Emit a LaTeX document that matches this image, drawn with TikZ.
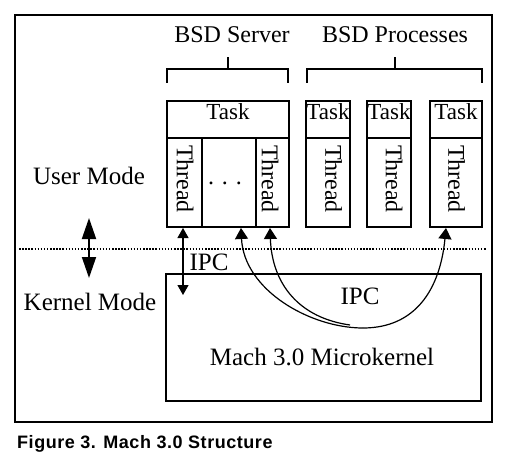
\documentclass[tikz,border=0pt]{standalone}
\usepackage{fontspec}
\setmainfont{Liberation Serif}
\newfontfamily\capfont[LetterSpace=3]{Liberation Sans}
\usetikzlibrary{arrows.meta}
\begin{document}
\begin{tikzpicture}[x=1pt,y=-1pt,
  lbl/.style={font=\fontsize{24}{28}\selectfont, inner sep=0pt, anchor=base},
  lblb/.style={font=\fontsize{25}{29}\selectfont, inner sep=0pt, anchor=base},
  tasktxt/.style={font=\fontsize{23}{27}\selectfont, inner sep=0pt, anchor=base},
  thr/.style={font=\fontsize{24}{28}\selectfont, inner sep=0pt, rotate=-90},
  tbox/.style={line width=1.8pt},
  brk/.style={line width=1.8pt},
  curvetip/.style={line width=1.2pt, -{Triangle[width=13pt,length=11pt]}},
  ipctip/.style={line width=1.2pt, {Triangle[width=11pt,length=10pt]}-{Triangle[width=11pt,length=10pt]}},
  modetip/.style={line width=1.8pt, {Triangle[width=14pt,length=21pt]}-{Triangle[width=14pt,length=21pt]}}
]
\useasboundingbox (0,0) rectangle (509,468);
% outer frame
\draw[line width=1.7pt] (15,15) rectangle (492,422);
% brackets
\draw[brk] (167,83) -- (167,69) -- (288,69) -- (288,83);
\draw[brk] (228,69) -- (228,57);
\draw[brk] (307,83) -- (307,69) -- (482,69) -- (482,83);
\draw[brk] (395,69) -- (395,57);
\node[lbl] (bsds) at (232,43) {BSD Server};
\node[lbl] (bsdp) at (395,43) {BSD Processes};
% server task box
\draw[tbox] (167,101) rectangle (289,227);
\draw[tbox] (167,138) -- (289,138);
\draw[tbox] (202,138) -- (202,227);
\draw[tbox] (256,138) -- (256,227);
\node[tasktxt] (t0) at (228,120) {Task};
\node[thr] (th1) at (185,179) {Thread};
\node[thr] (th2) at (270,179) {Thread};
\node[lbl] (dots) at (225,185) {. . .};
% process task boxes
\draw[tbox] (306,101) rectangle (350,227);
\draw[tbox] (306,138) -- (350,138);
\draw[tbox] (367,101) rectangle (411,227);
\draw[tbox] (367,138) -- (411,138);
\draw[tbox] (430,101) rectangle (482,227);
\draw[tbox] (430,138) -- (482,138);
\node[tasktxt] (t1) at (328,120) {Task};
\node[tasktxt] (t2) at (389,120) {Task};
\node[tasktxt] (t3) at (456,120) {Task};
\node[thr] (th3) at (333.5,179) {Thread};
\node[thr] (th4) at (394,179) {Thread};
\node[thr] (th5) at (456.5,179) {Thread};
% mode labels
\node[lblb] (um) at (89,185) {User Mode};
\node[lblb] (km) at (90,310) {Kernel Mode};
\draw[line width=1.3pt, dash pattern=on 1.5pt off 1.6pt] (19,249) -- (486,249);
\coordinate (mu) at (89,218);
\coordinate (md) at (89,278);
\draw[modetip] (mu) -- (md);
% kernel box
\draw[line width=1.4pt] (166,274) rectangle (481,401);
\node[lblb] (mach) at (322,365) {Mach 3.0 Microkernel};
% IPC straight
\coordinate (ia) at (183,228);
\coordinate (ib) at (183,295);
\draw[ipctip] (ia) -- (ib);
\node[lblb] (ipc1) at (209,270) {IPC};
\node[lblb] (ipc2) at (360,304) {IPC};
% IPC curves
\coordinate (ca) at (241,228);
\coordinate (cb) at (270,228);
\coordinate (cc) at (446,228);
\coordinate (bot) at (363,328);
\coordinate (mrg) at (350,325);
\draw[curvetip] (bot) .. controls (310,328) and (244,290) .. (ca);
\draw[curvetip] (bot) .. controls (415,328) and (440,290) .. (cc);
\draw[curvetip] (mrg) .. controls (300,318) and (272,285) .. (cb);
% caption
\node[anchor=base west, inner sep=0pt, font=\capfont\bfseries\fontsize{18}{22}\selectfont] (cap) at (17,448) {Figure 3. Mach 3.0 Structure};
\end{tikzpicture}
\end{document}
